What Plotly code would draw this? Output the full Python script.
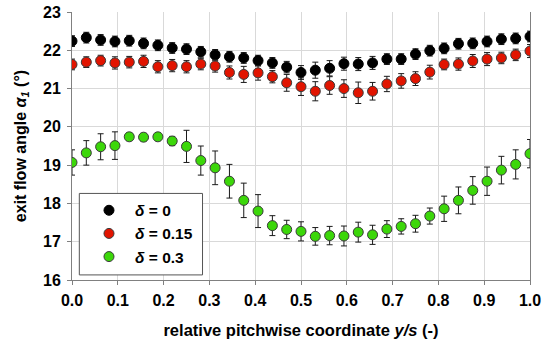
import plotly.graph_objects as go

# Measurement positions (relative pitchwise coordinate y/s)
y_s = [0.0, 0.03125, 0.0625, 0.09375, 0.125, 0.15625, 0.1875, 0.21875, 0.25,
       0.28125, 0.3125, 0.34375, 0.375, 0.40625, 0.4375, 0.46875, 0.5,
       0.53125, 0.5625, 0.59375, 0.625, 0.65625, 0.6875, 0.71875, 0.75,
       0.78125, 0.8125, 0.84375, 0.875, 0.90625, 0.9375, 0.96875, 1.0]

# delta = 0
alpha_d0 = [22.24, 22.33, 22.27, 22.23, 22.25, 22.18, 22.13, 22.06, 22.03, 21.96,
            21.88, 21.83, 21.80, 21.73, 21.67, 21.56, 21.42, 21.48, 21.53, 21.65,
            21.64, 21.67, 21.77, 21.77, 21.90, 21.99, 22.05, 22.17, 22.18, 22.23,
            22.29, 22.31, 22.36]
err_d0 = [0.14, 0.14, 0.14, 0.14, 0.14, 0.14, 0.14, 0.14, 0.14, 0.14,
          0.14, 0.14, 0.14, 0.14, 0.14, 0.15, 0.18, 0.21, 0.20, 0.17,
          0.17, 0.17, 0.14, 0.14, 0.14, 0.14, 0.14, 0.14, 0.14, 0.14,
          0.14, 0.14, 0.14]

# delta = 0.15
alpha_d015 = [21.63, 21.69, 21.73, 21.67, 21.69, 21.71, 21.57, 21.60, 21.57, 21.64,
              21.59, 21.42, 21.37, 21.41, 21.31, 21.15, 21.05, 20.93, 21.08, 21.00,
              20.89, 20.93, 21.12, 21.20, 21.26, 21.43, 21.63, 21.64, 21.72, 21.77,
              21.80, 21.88, 21.98]
err_d015 = [0.14, 0.14, 0.14, 0.16, 0.15, 0.16, 0.16, 0.16, 0.16, 0.15,
            0.16, 0.17, 0.21, 0.19, 0.16, 0.22, 0.23, 0.25, 0.23, 0.23,
            0.28, 0.23, 0.20, 0.19, 0.18, 0.18, 0.14, 0.16, 0.17, 0.17,
            0.15, 0.15, 0.17]

# delta = 0.3
alpha_d03 = [19.07, 19.32, 19.48, 19.51, 19.74, 19.73, 19.74, 19.63, 19.49, 19.12,
             18.93, 18.58, 18.08, 17.80, 17.42, 17.32, 17.27, 17.14, 17.16, 17.15,
             17.25, 17.18, 17.33, 17.40, 17.47, 17.67, 17.86, 18.08, 18.34, 18.58,
             18.87, 19.02, 19.30]
err_d03 = [0.33, 0.32, 0.34, 0.36, 0.10, 0.10, 0.10, 0.12, 0.42, 0.38,
           0.44, 0.44, 0.45, 0.43, 0.26, 0.24, 0.25, 0.23, 0.24, 0.26,
           0.26, 0.25, 0.22, 0.20, 0.22, 0.21, 0.33, 0.35, 0.36, 0.37,
           0.36, 0.38, 0.37]

series_names = ["<i>δ</i> = 0", "<i>δ</i> = 0.15", "<i>δ</i> = 0.3"]
fills = ["#000000", "rgb(225,20,0)", "rgb(60,215,10)"]
outlines = ["#000000", "#3a3a3a", "#3a3a3a"]

y_ticks = [16, 17, 18, 19, 20, 21, 22, 23]
x_ticks = [0.0, 0.1, 0.2, 0.3, 0.4, 0.5, 0.6, 0.7, 0.8, 0.9, 1.0]
x_ticklabels = ["0.0", "0.1", "0.2", "0.3", "0.4", "0.5", "0.6", "0.7", "0.8", "0.9", "1.0"]

fig = go.Figure()
for name, vals, errs, fc, oc in zip(series_names,
                                    [alpha_d0, alpha_d015, alpha_d03],
                                    [err_d0, err_d015, err_d03],
                                    fills, outlines):
    fig.add_trace(go.Scatter(
        x=y_s, y=vals, name=name, mode="markers",
        marker=dict(size=10, color=fc, line=dict(color=oc, width=1)),
        error_y=dict(type="data", array=errs, visible=True,
                     color="#1a1a1a", thickness=1, width=3),
    ))

font_family = "Liberation Sans, Arial, sans-serif"

fig.update_layout(
    width=550, height=347,
    margin=dict(l=72, r=20, t=12, b=67, autoexpand=False),
    paper_bgcolor="white", plot_bgcolor="white",
    font=dict(family=font_family, size=16, color="black", weight="bold"),
    showlegend=True,
    legend=dict(x=0.024, y=0.322, xanchor="left", yanchor="top",
                bgcolor="rgba(0,0,0,0)", borderwidth=0,
                itemwidth=42, tracegroupgap=0,
                font=dict(family=font_family, size=15.5, color="black", weight="bold")),
    shapes=[dict(type="rect", xref="paper", yref="paper",
                 x0=0.016, x1=0.285, y0=0.019, y1=0.323,
                 fillcolor="white", line=dict(color="#555555", width=1),
                 layer="above")],
)

fig.update_xaxes(
    range=[0, 1], tickvals=x_ticks, ticktext=x_ticklabels,
    showgrid=False, zeroline=False,
    showline=True, linecolor="#808080", linewidth=1,
    ticks="outside", ticklen=4, tickcolor="#808080", ticklabelstandoff=2,
    tickfont=dict(size=16),
    minor=dict(tickvals=[0.1, 0.2, 0.3, 0.4, 0.5, 0.6, 0.7, 0.8, 0.9],
               showgrid=True, gridcolor="#d9d9d9", gridwidth=1),
    title=dict(text="relative pitchwise coordinate <i>y/s</i> (-)", standoff=16,
               font=dict(size=16.5)),
    automargin=False,
)
fig.update_yaxes(
    range=[16, 23], tickvals=y_ticks,
    showgrid=False, zeroline=False,
    showline=True, linecolor="#808080", linewidth=1, mirror=True,
    ticks="outside", ticklen=4, tickcolor="#808080", ticklabelstandoff=3,
    tickfont=dict(size=16),
    minor=dict(tickvals=[17, 18, 19, 20, 21, 22],
               showgrid=True, gridcolor="#d9d9d9", gridwidth=1),
    title=dict(text="exit flow angle <i>α<sub>1</sub></i> (°)", standoff=12,
               font=dict(size=16)),
    automargin=False,
)

fig.write_html("out.html", config={"displayModeBar": False},
               post_script="document.body.style.margin='0';")
